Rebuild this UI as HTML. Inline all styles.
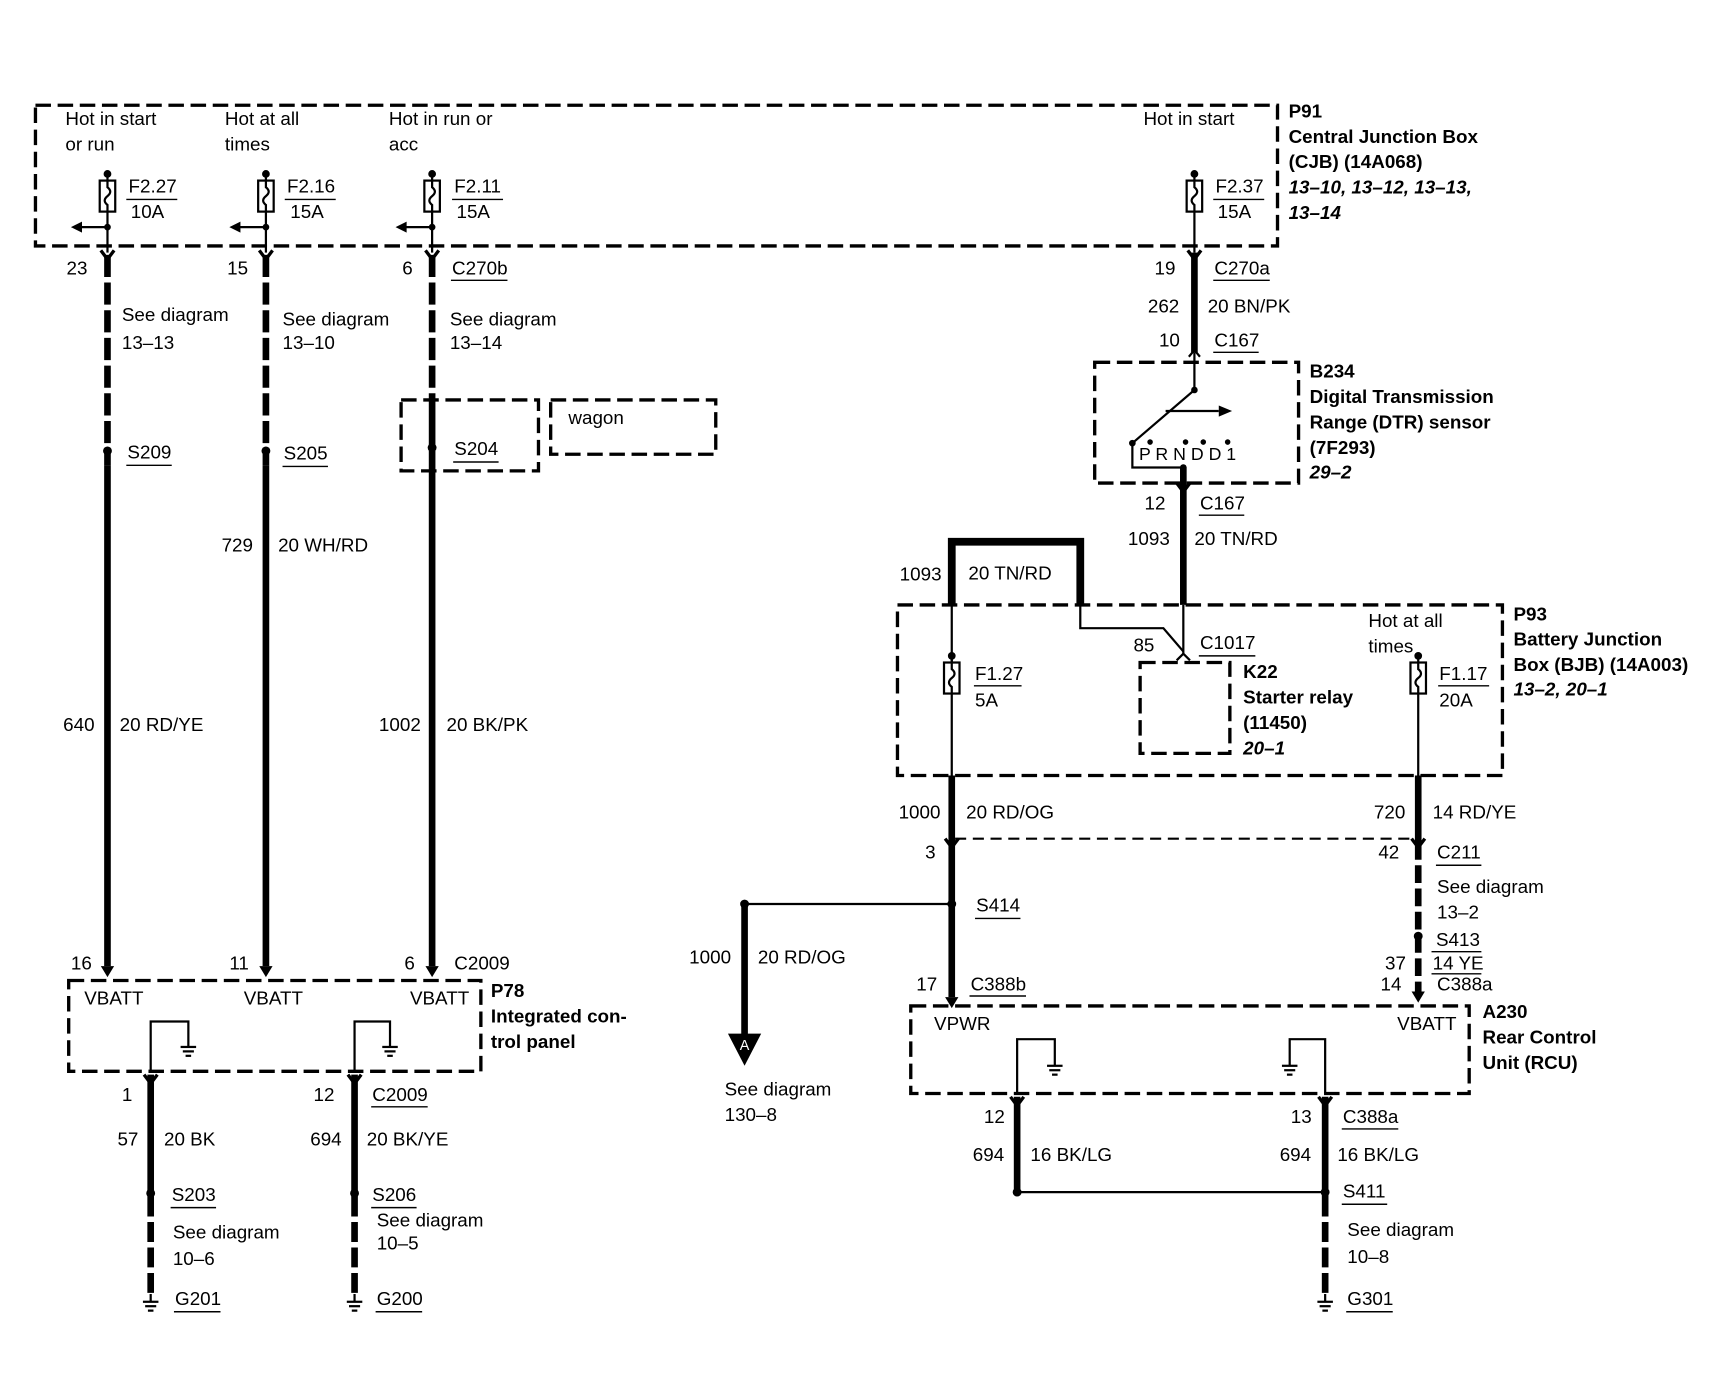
<!DOCTYPE html>
<html><head><meta charset="utf-8"><style>
html,body{margin:0;padding:0;background:#fff;}
svg{display:block}
text{font-family:"Liberation Sans",sans-serif;font-size:17px;fill:#000;dominant-baseline:central}
.b{font-weight:bold}
.i{font-weight:bold;font-style:italic}
.d{fill:none;stroke:#000;stroke-width:3;stroke-dasharray:14,6}
.t{fill:none;stroke:#000;stroke-width:6}
.n{fill:none;stroke:#000;stroke-width:2}
.u{stroke:#000;stroke-width:1.3}
</style></head><body>
<svg width="1734" height="1376" viewBox="0 0 1565 1242" preserveAspectRatio="none" xmlns="http://www.w3.org/2000/svg">
<defs>
<g id="fuse"><circle cx="0" cy="0" r="3.5" fill="#000"/><line x1="0" y1="0" x2="0" y2="6" class="n"/><rect x="-7" y="6" width="14" height="28" fill="#fff" stroke="#000" stroke-width="2"/><path d="M0 6 L0 12 Q5 16 0 20 Q-5 24 0 28 L0 34" class="n"/></g>
<g id="gnd"><line x1="-7" y1="0" x2="7" y2="0" stroke="#000" stroke-width="2"/><line x1="-5" y1="4" x2="5" y2="4" stroke="#000" stroke-width="2"/><line x1="-2.5" y1="8" x2="2.5" y2="8" stroke="#000" stroke-width="2"/></g>
<g id="chev"><path d="M-6 -6 L0 2 L6 -6" fill="none" stroke="#000" stroke-width="3"/></g>
</defs>
<!-- P91 -->
<rect x="32" y="95" width="1121" height="127" class="d"/>
<text x="59" y="107">Hot in start</text><text x="59" y="130">or run</text>
<text x="203" y="107">Hot at all</text><text x="203" y="130">times</text>
<text x="351" y="107">Hot in run or</text><text x="351" y="130">acc</text>
<text x="1032" y="107">Hot in start</text>
<text x="1163" y="100" class="b">P91</text>
<text x="1163" y="123" class="b">Central Junction Box</text>
<text x="1163" y="146" class="b">(CJB) (14A068)</text>
<text x="1163" y="169" class="i">13–10, 13–12, 13–13,</text>
<text x="1163" y="192" class="i">13–14</text>
<use href="#fuse" x="97" y="157"/><use href="#fuse" x="240" y="157"/><use href="#fuse" x="390" y="157"/><use href="#fuse" x="1078" y="157"/>
<g>
<line x1="97" y1="191" x2="97" y2="228" class="n"/><line x1="240" y1="191" x2="240" y2="228" class="n"/><line x1="390" y1="191" x2="390" y2="228" class="n"/><line x1="1078" y1="191" x2="1078" y2="228" class="n"/>
<line x1="97" y1="205" x2="72" y2="205" class="n"/><path d="M64 205 L74 200 L74 210Z"/><circle cx="97" cy="205" r="3"/>
<line x1="240" y1="205" x2="215" y2="205" class="n"/><path d="M207 205 L217 200 L217 210Z"/><circle cx="240" cy="205" r="3"/>
<line x1="390" y1="205" x2="365" y2="205" class="n"/><path d="M357 205 L367 200 L367 210Z"/><circle cx="390" cy="205" r="3"/>
</g>
<text x="116" y="168">F2.27</text><line x1="114" y1="180" x2="160" y2="180" class="u"/><text x="118" y="191">10A</text>
<text x="259" y="168">F2.16</text><line x1="257" y1="180" x2="303" y2="180" class="u"/><text x="262" y="191">15A</text>
<text x="410" y="168">F2.11</text><line x1="408" y1="180" x2="454" y2="180" class="u"/><text x="412" y="191">15A</text>
<text x="1097" y="168">F2.37</text><line x1="1095" y1="180" x2="1141" y2="180" class="u"/><text x="1099" y="191">15A</text>
<!-- left wires -->
<path d="M97 230 V420" stroke="#000" stroke-width="6" stroke-dasharray="20,5"/><line x1="97" y1="420" x2="97" y2="872" class="t"/>
<path d="M240 230 V420" stroke="#000" stroke-width="6" stroke-dasharray="20,5"/><line x1="240" y1="420" x2="240" y2="872" class="t"/>
<path d="M390 230 V360" stroke="#000" stroke-width="6" stroke-dasharray="20,5"/><line x1="390" y1="360" x2="390" y2="872" class="t"/>
<use href="#chev" x="97" y="232"/><use href="#chev" x="240" y="232"/><use href="#chev" x="390" y="232"/>
<path d="M91 872 L97 882 L103 872Z"/><path d="M234 872 L240 882 L246 872Z"/><path d="M384 872 L390 882 L396 872Z"/>
<text x="60" y="242">23</text><text x="205" y="242">15</text><text x="363" y="242">6</text>
<text x="408" y="242">C270b</text><line x1="407" y1="253" x2="458" y2="253" class="u"/>
<text x="110" y="284">See diagram</text><text x="110" y="309">13–13</text>
<text x="255" y="288">See diagram</text><text x="255" y="309">13–10</text>
<text x="406" y="288">See diagram</text><text x="406" y="309">13–14</text>
<circle cx="97" cy="407" r="4"/><circle cx="240" cy="407" r="4"/><circle cx="390" cy="404" r="4"/>
<text x="115" y="408">S209</text><line x1="114" y1="420" x2="155" y2="420" class="u"/>
<text x="256" y="409">S205</text><line x1="255" y1="421" x2="296" y2="421" class="u"/>
<text x="410" y="405">S204</text><line x1="409" y1="417" x2="450" y2="417" class="u"/>
<rect x="362" y="361" width="124" height="64" class="d"/>
<rect x="497" y="361" width="149" height="49" class="d"/>
<text x="513" y="377">wagon</text>
<text x="200" y="492">729</text><text x="251" y="492">20 WH/RD</text>
<text x="57" y="654">640</text><text x="108" y="654">20 RD/YE</text>
<text x="342" y="654">1002</text><text x="403" y="654">20 BK/PK</text>
<text x="64" y="869">16</text><text x="207" y="869">11</text><text x="365" y="869">6</text><text x="410" y="869">C2009</text>
<!-- P78 -->
<rect x="62" y="885" width="372" height="82" class="d"/>
<text x="76" y="901">VBATT</text><text x="220" y="901">VBATT</text><text x="370" y="901">VBATT</text>
<text x="443" y="894" class="b">P78</text><text x="443" y="917" class="b">Integrated con-</text><text x="443" y="940" class="b">trol panel</text>
<path d="M136 967 V922 H170 V945" class="n"/><use href="#gnd" x="170" y="945"/>
<path d="M320 967 V922 H352 V945" class="n"/><use href="#gnd" x="352" y="945"/>
<line x1="136" y1="970" x2="136" y2="1080" class="t"/><path d="M136 1080 V1168" stroke="#000" stroke-width="6" stroke-dasharray="18,5"/>
<line x1="320" y1="970" x2="320" y2="1080" class="t"/><path d="M320 1080 V1168" stroke="#000" stroke-width="6" stroke-dasharray="18,5"/>
<use href="#chev" x="136" y="976"/><use href="#chev" x="320" y="976"/>
<text x="110" y="988">1</text><text x="283" y="988">12</text><text x="336" y="988">C2009</text><line x1="335" y1="999" x2="386" y2="999" class="u"/>
<text x="106" y="1028">57</text><text x="148" y="1028">20 BK</text>
<text x="280" y="1028">694</text><text x="331" y="1028">20 BK/YE</text>
<circle cx="136" cy="1077" r="4"/><circle cx="320" cy="1077" r="4"/>
<text x="155" y="1078">S203</text><line x1="154" y1="1090" x2="195" y2="1090" class="u"/>
<text x="336" y="1078">S206</text><line x1="335" y1="1090" x2="376" y2="1090" class="u"/>
<text x="156" y="1112">See diagram</text><text x="156" y="1136">10–6</text>
<text x="340" y="1101">See diagram</text><text x="340" y="1122">10–5</text>
<line x1="136" y1="1168" x2="136" y2="1175" class="n"/><use href="#gnd" x="136" y="1175"/>
<line x1="320" y1="1168" x2="320" y2="1175" class="n"/><use href="#gnd" x="320" y="1175"/>
<text x="158" y="1172">G201</text><line x1="157" y1="1184" x2="199" y2="1184" class="u"/>
<text x="340" y="1172">G200</text><line x1="339" y1="1184" x2="381" y2="1184" class="u"/>
<!-- right top -->
<line x1="1078" y1="228" x2="1078" y2="318" class="t"/><use href="#chev" x="1078" y="232"/>
<path d="M1073 322 L1078 316 L1083 322" class="n"/>
<text x="1042" y="242">19</text><text x="1096" y="242">C270a</text><line x1="1095" y1="253" x2="1146" y2="253" class="u"/>
<text x="1036" y="276">262</text><text x="1090" y="276">20 BN/PK</text>
<text x="1046" y="307">10</text><text x="1096" y="307">C167</text><line x1="1095" y1="318" x2="1136" y2="318" class="u"/>
<rect x="988" y="327" width="184" height="109" class="d"/>
<text x="1182" y="335" class="b">B234</text><text x="1182" y="358" class="b">Digital Transmission</text>
<text x="1182" y="381" class="b">Range (DTR) sensor</text><text x="1182" y="404" class="b">(7F293)</text><text x="1182" y="426" class="i">29–2</text>
<path d="M1078 318 V352 L1022 400" class="n"/><circle cx="1078" cy="352" r="3"/><circle cx="1022" cy="400" r="3"/>
<line x1="1052" y1="371" x2="1100" y2="371" class="n"/><path d="M1112 371 L1100 366 L1100 376Z"/>
<text x="1028" y="410" style="font-size:16px">P R N D D 1</text>
<circle cx="1038" cy="399" r="2.5"/><circle cx="1070" cy="399" r="2.5"/><circle cx="1086" cy="399" r="2.5"/><circle cx="1108" cy="399" r="2.5"/>
<path d="M1022 400 V422 H1068" class="n"/><circle cx="1068" cy="422" r="3"/>
<line x1="1068" y1="422" x2="1068" y2="546" class="t"/><use href="#chev" x="1068" y="442"/>
<text x="1033" y="454">12</text><text x="1083" y="454">C167</text><line x1="1082" y1="465" x2="1123" y2="465" class="u"/>
<text x="1018" y="486">1093</text><text x="1078" y="486">20 TN/RD</text>
<path d="M859 546 V489 H975 V546" fill="none" stroke="#000" stroke-width="7"/>
<text x="812" y="518">1093</text><text x="874" y="517">20 TN/RD</text>
<path d="M975 546 V567 H1050 L1068 588" class="n"/><line x1="1068" y1="546" x2="1068" y2="590" class="n"/>
<path d="M1062 596 L1068 590 L1074 596" class="n"/>
<!-- P93 -->
<rect x="810" y="546" width="546" height="154" class="d"/>
<text x="1366" y="554" class="b">P93</text><text x="1366" y="577" class="b">Battery Junction</text>
<text x="1366" y="600" class="b">Box (BJB) (14A003)</text><text x="1366" y="622" class="i">13–2, 20–1</text>
<line x1="859" y1="546" x2="859" y2="597" class="n"/><use href="#fuse" x="859" y="592"/><line x1="859" y1="626" x2="859" y2="700" class="n"/>
<text x="880" y="608">F1.27</text><line x1="879" y1="619" x2="922" y2="619" class="u"/><text x="880" y="632">5A</text>
<rect x="1029" y="598" width="81" height="82" class="d"/>
<text x="1023" y="582">85</text><text x="1083" y="580">C1017</text><line x1="1082" y1="592" x2="1133" y2="592" class="u"/>
<text x="1122" y="606" class="b">K22</text><text x="1122" y="629" class="b">Starter relay</text><text x="1122" y="652" class="b">(11450)</text><text x="1122" y="675" class="i">20–1</text>
<text x="1235" y="560">Hot at all</text><text x="1235" y="583">times</text>
<use href="#fuse" x="1280" y="592"/><line x1="1280" y1="626" x2="1280" y2="700" class="n"/>
<text x="1299" y="608">F1.17</text><line x1="1298" y1="619" x2="1344" y2="619" class="u"/><text x="1299" y="632">20A</text>
<!-- middle right -->
<line x1="859" y1="700" x2="859" y2="900" class="t"/><path d="M853 900 L859 910 L865 900Z"/>
<line x1="1280" y1="700" x2="1280" y2="760" class="t"/><path d="M1280 760 V895" stroke="#000" stroke-width="6" stroke-dasharray="16,5"/><path d="M1274 895 L1280 905 L1286 895Z"/>
<line x1="862" y1="757" x2="1278" y2="757" stroke="#000" stroke-width="2" stroke-dasharray="10,6"/>
<use href="#chev" x="859" y="763"/><use href="#chev" x="1280" y="763"/>
<text x="811" y="733">1000</text><text x="872" y="733">20 RD/OG</text>
<text x="1240" y="733">720</text><text x="1293" y="733">14 RD/YE</text>
<text x="835" y="769">3</text><text x="1244" y="769">42</text><text x="1297" y="769">C211</text><line x1="1296" y1="781" x2="1337" y2="781" class="u"/>
<text x="1297" y="800">See diagram</text><text x="1297" y="823">13–2</text>
<circle cx="859" cy="816" r="4"/><line x1="859" y1="816" x2="672" y2="816" class="n"/><circle cx="672" cy="816" r="4"/>
<text x="881" y="817">S414</text><line x1="880" y1="829" x2="921" y2="829" class="u"/>
<line x1="672" y1="816" x2="672" y2="935" class="t"/><path d="M657 933 L687 933 L672 962Z"/>
<text x="672" y="944" style="fill:#fff;font-size:13px" text-anchor="middle">A</text>
<text x="622" y="864">1000</text><text x="684" y="864">20 RD/OG</text>
<text x="654" y="983">See diagram</text><text x="654" y="1006">130–8</text>
<circle cx="1280" cy="845" r="4"/>
<text x="1296" y="848">S413</text><text x="1293" y="869">14 YE</text><line x1="1292" y1="859" x2="1337" y2="859" class="u"/><line x1="1292" y1="879" x2="1337" y2="879" class="u"/>
<text x="1250" y="869">37</text><text x="1246" y="888">14</text><text x="1297" y="888">C388a</text>
<text x="827" y="888">17</text><text x="876" y="888">C388b</text><line x1="875" y1="899" x2="926" y2="899" class="u"/>
<!-- A230 -->
<rect x="822" y="908" width="504" height="79" class="d"/>
<text x="843" y="924">VPWR</text><text x="1261" y="924">VBATT</text>
<text x="1338" y="913" class="b">A230</text><text x="1338" y="936" class="b">Rear Control</text><text x="1338" y="959" class="b">Unit (RCU)</text>
<path d="M918 987 V938 H952 V962" class="n"/><use href="#gnd" x="952" y="962"/>
<path d="M1196 987 V938 H1164 V962" class="n"/><use href="#gnd" x="1164" y="962"/>
<line x1="918" y1="990" x2="918" y2="1076" class="t"/>
<line x1="1196" y1="990" x2="1196" y2="1080" class="t"/><path d="M1196 1080 V1168" stroke="#000" stroke-width="6" stroke-dasharray="18,5"/>
<use href="#chev" x="918" y="996"/><use href="#chev" x="1196" y="996"/>
<text x="888" y="1008">12</text><text x="1165" y="1008">13</text><text x="1212" y="1008">C388a</text><line x1="1211" y1="1019" x2="1262" y2="1019" class="u"/>
<text x="878" y="1042">694</text><text x="930" y="1042">16 BK/LG</text>
<text x="1155" y="1042">694</text><text x="1207" y="1042">16 BK/LG</text>
<line x1="918" y1="1076" x2="1196" y2="1076" class="n"/><circle cx="918" cy="1076" r="4"/><circle cx="1196" cy="1076" r="4"/>
<text x="1212" y="1075">S411</text><line x1="1211" y1="1087" x2="1252" y2="1087" class="u"/>
<text x="1216" y="1110">See diagram</text><text x="1216" y="1134">10–8</text>
<line x1="1196" y1="1168" x2="1196" y2="1175" class="n"/><use href="#gnd" x="1196" y="1175"/>
<text x="1216" y="1172">G301</text><line x1="1215" y1="1184" x2="1257" y2="1184" class="u"/>
</svg>
</body></html>
